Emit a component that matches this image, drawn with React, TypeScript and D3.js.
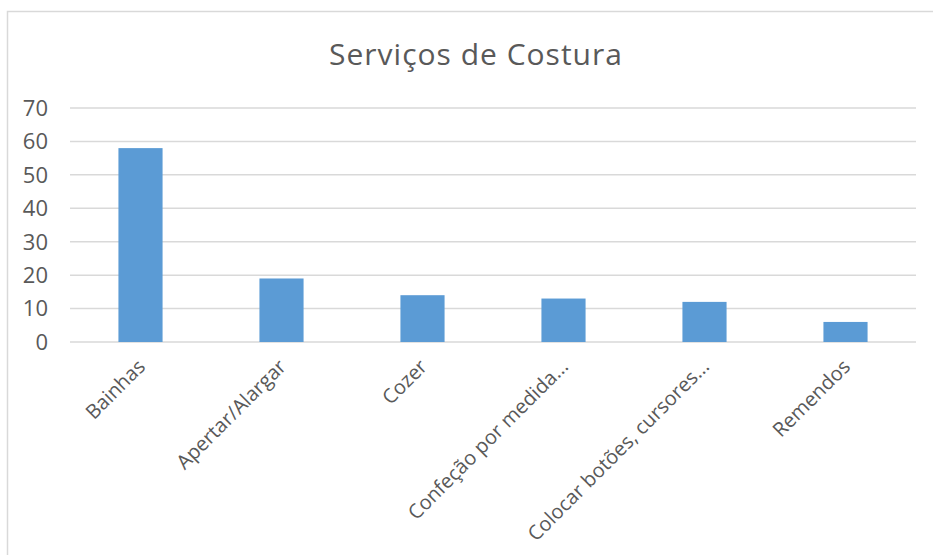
import { useEffect, useRef } from 'react';
import * as d3 from 'd3';

const categories = [
  'Bainhas',
  'Apertar/Alargar',
  'Cozer',
  'Confeção por medida...',
  'Colocar botões, cursores...',
  'Remendos',
];
const values = [58, 19, 14, 13, 12, 6];
const yTicks = [0, 10, 20, 30, 40, 50, 60, 70];

const W = 933;
const H = 555;

export default function App() {
  const ref = useRef<SVGSVGElement | null>(null);

  useEffect(() => {
    const svg = d3.select(ref.current);
    svg.selectAll('*').remove();

    const plot = { left: 70, right: 916, top: 108, bottom: 342 };
    const textColor = '#595959';
    const gridColor = '#d9d9d9';

    // chart frame
    svg
      .append('rect')
      .attr('x', 7.5)
      .attr('y', 11.5)
      .attr('width', 930)
      .attr('height', 560)
      .attr('fill', '#fff')
      .attr('stroke', gridColor)
      .attr('stroke-width', 1.5);

    svg
      .append('text')
      .attr('x', 476)
      .attr('y', 65)
      .attr('text-anchor', 'middle')
      .attr('fill', textColor)
      .style('font', '30px "Open Sans", sans-serif')
      .style('letter-spacing', '1px')
      .text('Serviços de Costura');

    const x = d3
      .scaleBand<string>()
      .domain(categories)
      .range([plot.left, plot.right])
      .paddingInner(0.687)
      .paddingOuter(0.687 / 2);

    const y = d3.scaleLinear().domain([0, 70]).range([plot.bottom, plot.top]);

    svg
      .append('g')
      .selectAll('line')
      .data(yTicks)
      .enter()
      .append('line')
      .attr('x1', plot.left)
      .attr('x2', plot.right)
      .attr('y1', d => y(d))
      .attr('y2', d => y(d))
      .attr('stroke', gridColor)
      .attr('stroke-width', 1.5);

    svg
      .append('g')
      .selectAll('text')
      .data(yTicks)
      .enter()
      .append('text')
      .attr('x', 48)
      .attr('y', d => y(d))
      .attr('dy', '0.36em')
      .attr('text-anchor', 'end')
      .attr('fill', textColor)
      .style('font', '22px "Open Sans", sans-serif')
      .text(d => d);

    svg
      .append('g')
      .selectAll('rect')
      .data(values)
      .enter()
      .append('rect')
      .attr('x', (d, i) => x(categories[i]) as number)
      .attr('y', d => y(d))
      .attr('width', x.bandwidth())
      .attr('height', d => y(0) - y(d))
      .attr('fill', '#5b9bd5');

    svg
      .append('g')
      .selectAll('text')
      .data(categories)
      .enter()
      .append('text')
      .attr('transform', d => `translate(${(x(d) as number) + x.bandwidth() / 2 - 4}, 358) rotate(-45)`)
      .attr('text-anchor', 'end')
      .attr('dy', '0.7em')
      .attr('fill', textColor)
      .style('font', '20px "Open Sans", sans-serif')
      .text(d => d);
  }, []);

  return <svg ref={ref} width={W} height={H} style={{ position: 'absolute', left: 0, top: 0 }} />;
}
